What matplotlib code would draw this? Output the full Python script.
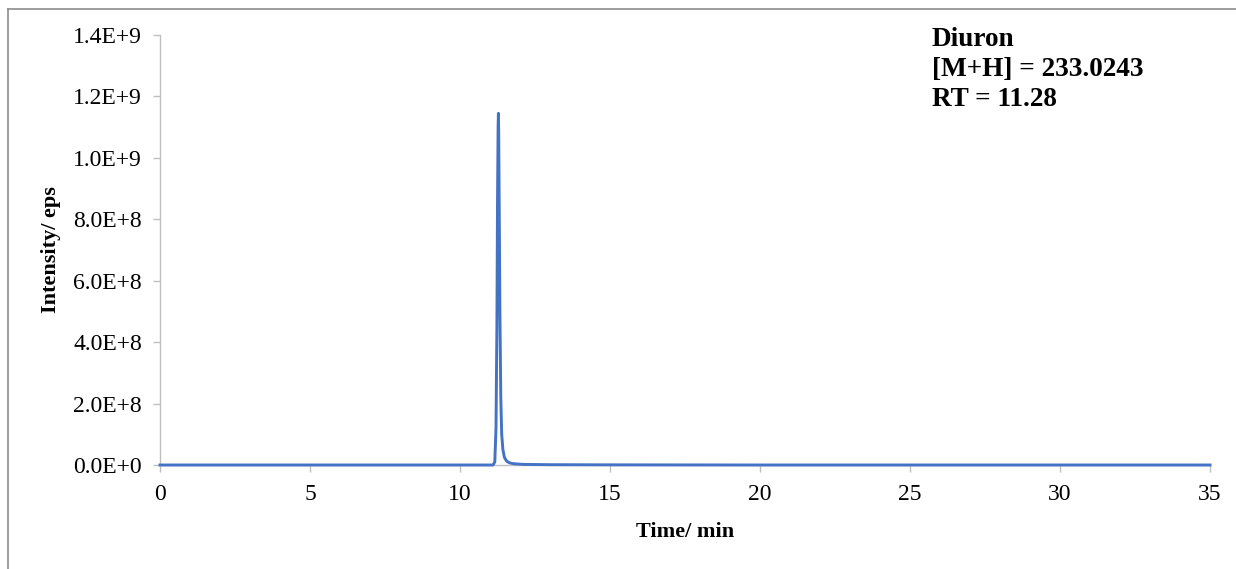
import matplotlib
matplotlib.use("Agg")
import matplotlib.pyplot as plt
from matplotlib.lines import Line2D

# Chromatogram points (time in min, intensity in counts)
time_min = [0.0, 5.0, 10.0, 11.10, 11.16, 11.20, 11.23, 11.25, 11.27, 11.28,
            11.29, 11.31, 11.33, 11.36, 11.39, 11.43, 11.48, 11.55, 11.65,
            11.80, 12.10, 13.0, 15.0, 20.0, 25.0, 30.0, 35.0]
intensity = [0.0, 0.0, 0.0, 0.0, 0.01e9, 0.12e9, 0.45e9, 0.85e9, 1.10e9, 1.145e9,
             1.08e9, 0.80e9, 0.50e9, 0.22e9, 0.10e9, 0.05e9, 0.025e9, 0.013e9, 0.007e9,
             0.004e9, 0.002e9, 0.001e9, 0.0005e9, 0.0, 0.0, 0.0, 0.0]

x_ticks = [0, 5, 10, 15, 20, 25, 30, 35]
y_ticks = [0, 0.2e9, 0.4e9, 0.6e9, 0.8e9, 1.0e9, 1.2e9, 1.4e9]
y_tick_labels = ["0.0E+0", "2.0E+8", "4.0E+8", "6.0E+8", "8.0E+8", "1.0E+9", "1.2E+9", "1.4E+9"]

annot_lines = ["Diuron", "[M+H] = 233.0243", "RT = 11.28"]

W, H = 1236, 569
fig = plt.figure(figsize=(W / 100, H / 100), dpi=100)
ax = fig.add_axes([160 / W, (H - 465) / H, 1050 / W, 430 / H])

serif = ["Liberation Serif", "DejaVu Serif"]
ax.plot(time_min, intensity, color="#4472C4", lw=2.1, clip_on=False, zorder=3,
        solid_joinstyle="round")

ax.set_xlim(0, 35)
ax.set_ylim(0, 1.4e9)
ax.set_xticks(x_ticks)
ax.set_xticklabels([str(t) for t in x_ticks], fontfamily=serif, fontsize=17)
ax.set_yticks(y_ticks)
ax.set_yticklabels(y_tick_labels, fontfamily=serif, fontsize=17)

for s in ["top", "right"]:
    ax.spines[s].set_visible(False)
for s in ["left", "bottom"]:
    ax.spines[s].set_color("#BFBFBF")
    ax.spines[s].set_linewidth(1.0)
ax.tick_params(axis="both", direction="out", length=5, width=1.0, color="#BFBFBF",
               labelcolor="#000000")
ax.tick_params(axis="y", pad=8)
ax.tick_params(axis="x", pad=9)

ax.set_xlabel("Time/ min", fontfamily=serif, fontsize=16, fontweight="bold", labelpad=12)
ax.set_ylabel("Intensity/ eps", fontfamily=serif, fontsize=16, fontweight="bold", labelpad=9)

# annotation block
for i, txt in enumerate(annot_lines):
    fig.text(932 / W, 1 - (46 + 30 * i) / H, txt, fontfamily=serif, fontsize=19.6,
             fontweight="bold", ha="left", va="baseline")

# outer frame (top and left edges visible)
fig.add_artist(Line2D([8 / W, 1.0], [1 - 9 / H, 1 - 9 / H], transform=fig.transFigure,
                      color="#8C8C8C", lw=1.2))
fig.add_artist(Line2D([8 / W, 8 / W], [0.0, 1 - 9 / H], transform=fig.transFigure,
                      color="#8C8C8C", lw=1.2))

fig.savefig("out.png", dpi=100)
